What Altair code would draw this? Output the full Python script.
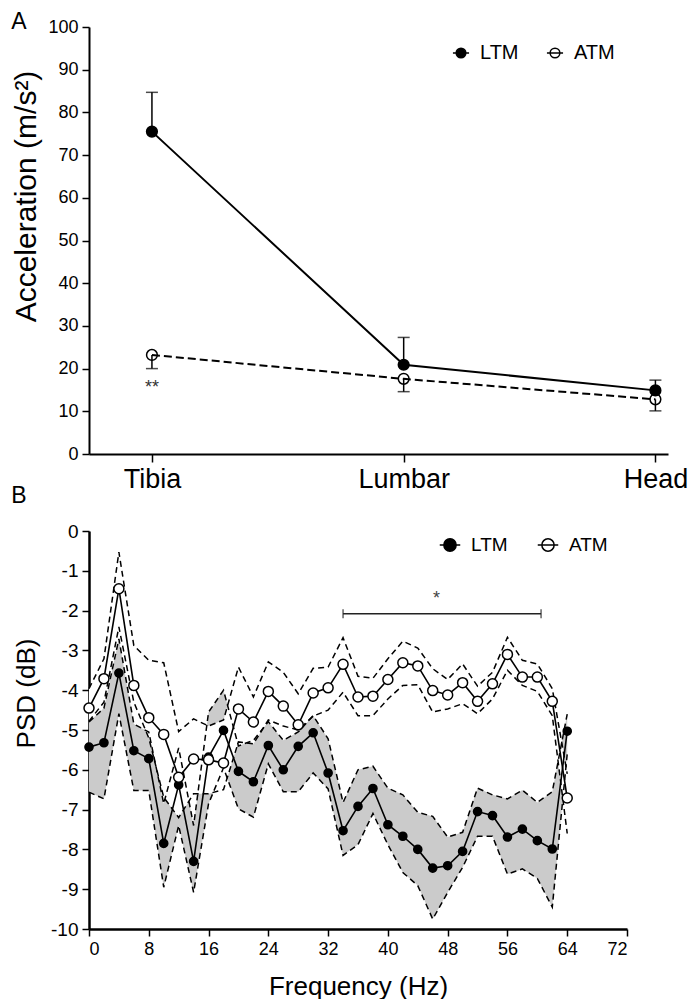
import altair as alt
import pandas as pd

FONT = "Liberation Sans"

# ---------------- Panel A data ----------------
sites = ["Tibia", "Lumbar", "Head"]
series_names = ["LTM", "ATM"]
ltm_acc = [75.5, 20.9, 14.9]
ltm_acc_sd_top = [84.7, 27.3, 17.3]
atm_acc = [23.2, 17.6, 12.8]
atm_acc_sd_bottom = [20.0, 14.6, 10.1]
sig_a_text = "**"
sig_a_site = 0
sig_a_value = 17.6

# ---------------- Panel B data ----------------
freq = [0, 2, 4, 6, 8, 10, 12, 14, 16, 18, 20, 22, 24, 26, 28, 30, 32,
        34, 36, 38, 40, 42, 44, 46, 48, 50, 52, 54, 56, 58, 60, 62, 64]
ltm_psd = [-5.43, -5.32, -3.57, -5.52, -5.72, -7.85, -6.38, -8.30, -5.68, -5.01,
           -6.04, -6.30, -5.39, -6.00, -5.41, -5.07, -6.08, -7.53, -6.92, -6.47,
           -7.38, -7.67, -8.00, -8.47, -8.41, -8.05, -7.05, -7.15, -7.69, -7.49,
           -7.78, -7.99, -5.03]
ltm_upper = [-4.80, -4.45, -2.71, -4.85, -5.05, -6.85, -5.45, -7.40, -4.55, -4.00,
             -5.40, -5.26, -4.79, -5.26, -5.05, -4.64, -5.22, -6.82, -6.00, -5.91,
             -6.46, -6.63, -7.07, -7.17, -7.69, -7.57, -6.46, -6.63, -6.73, -6.51,
             -6.82, -6.55, -4.60]
ltm_lower = [-6.56, -6.73, -4.59, -6.52, -6.52, -8.95, -7.40, -9.08, -6.85, -5.95,
             -6.98, -7.19, -5.85, -6.55, -6.55, -6.08, -6.48, -8.15, -7.88, -7.10,
             -7.88, -8.58, -8.91, -9.75, -9.08, -8.45, -7.67, -7.67, -8.62, -8.49,
             -8.73, -9.45, -5.60]
atm_psd = [-4.45, -3.71, -1.45, -3.88, -4.69, -5.11, -6.19, -5.73, -5.75, -5.83,
           -4.47, -4.80, -4.03, -4.40, -4.87, -4.07, -3.94, -3.35, -4.17, -4.15,
           -3.73, -3.31, -3.39, -4.01, -4.12, -3.81, -4.28, -3.84, -3.10, -3.67,
           -3.67, -4.28, -6.71]
atm_upper = [-3.96, -3.21, -0.53, -2.88, -3.25, -3.31, -5.04, -4.72, -4.90, -4.75,
             -3.42, -4.17, -3.29, -3.55, -4.09, -3.45, -3.42, -2.68, -3.65, -3.70,
             -3.21, -2.77, -2.94, -3.46, -3.73, -3.34, -3.90, -3.55, -2.67, -3.25,
             -3.34, -3.96, -6.10]
atm_lower = [-4.78, -4.30, -2.41, -4.30, -5.20, -6.69, -7.20, -6.60, -6.60, -6.50,
             -5.30, -5.35, -4.75, -4.90, -5.00, -4.65, -4.50, -4.05, -4.64, -4.64,
             -4.22, -3.88, -3.86, -4.55, -4.47, -4.34, -4.59, -4.22, -3.50, -3.88,
             -4.03, -4.64, -7.60]
sig_range = [34, 60.5]
sig_level = -2.08
sig_b_text = "*"
sig_b_pos = [46.5, -1.72]
freq_ticks = [0, 8, 16, 24, 32, 40, 48, 56, 64, 72]
psd_ticks = [-10, -9, -8, -7, -6, -5, -4, -3, -2, -1, 0]

SYMBOL = "M-1,0L1,0M-0.6,0A0.6,0.6,0,1,1,0.6,0A0.6,0.6,0,1,1,-0.6,0Z"


def fill_enc(fills, legend_x, legend_y, sym_size, font_size, offset, colpad):
    return alt.Fill(
        "series:N",
        scale=alt.Scale(domain=series_names, range=fills),
        legend=alt.Legend(title=None, orient="none", legendX=legend_x, legendY=legend_y,
                          direction="horizontal", symbolType=SYMBOL, symbolSize=sym_size,
                          symbolStrokeColor="black", symbolStrokeWidth=1.5,
                          labelFontSize=font_size, labelFont=FONT, labelColor="black",
                          labelOffset=offset, columnPadding=colpad),
    )


# ---------------- Panel A ----------------
rows_a = []
for i, s in enumerate(sites):
    rows_a.append(dict(idx=i, site=s, series="LTM", value=ltm_acc[i], bound=ltm_acc_sd_top[i]))
    rows_a.append(dict(idx=i, site=s, series="ATM", value=atm_acc[i], bound=atm_acc_sd_bottom[i]))
df_a = pd.DataFrame(rows_a)

label_expr = "[" + ",".join("'%s'" % s for s in sites) + "][datum.value]"
xa = alt.X("idx:Q", scale=alt.Scale(domain=[-0.25, 2.05], nice=False, zero=False),
           axis=alt.Axis(values=[0, 1, 2], labelExpr=label_expr, title=None,
                         labelFontSize=27, tickSize=8, labelPadding=4,
                         domainWidth=2, tickWidth=1.5))
ya = alt.Y("value:Q", scale=alt.Scale(domain=[0, 100], nice=False),
           axis=alt.Axis(values=list(range(0, 101, 10)), title="Acceleration (m/s²)",
                         titleFontSize=30, titleX=-48, titleY=169,
                         labelFontSize=18, tickSize=7, labelPadding=4, labelOverlap=False,
                         domainWidth=2, tickWidth=1.5))

base_a = alt.Chart(df_a)
line_ltm_a = base_a.transform_filter(alt.datum.series == "LTM").mark_line(
    color="black", strokeWidth=2).encode(x=xa, y=ya)
line_atm_a = base_a.transform_filter(alt.datum.series == "ATM").mark_line(
    color="black", strokeWidth=2, strokeDash=[8, 4]).encode(x="idx:Q", y="value:Q")
err_a = base_a.mark_rule(color="black", strokeWidth=1.5).encode(x="idx:Q", y="value:Q", y2="bound:Q")
cap_a = base_a.mark_tick(color="black", orient="horizontal", size=12, thickness=1.5).encode(
    x="idx:Q", y="bound:Q")
pts_a = base_a.mark_point(shape="circle", filled=True, size=115, stroke="black",
                          strokeWidth=1.5, opacity=1).encode(
    x="idx:Q", y="value:Q", fill=fill_enc(["black", "transparent"], 362, 16, 260, 20, 9, 24))
sig_a = alt.Chart(pd.DataFrame({"idx": [sig_a_site], "v": [sig_a_value], "t": [sig_a_text]})).mark_text(
    font=FONT, fontSize=18, color="#333", baseline="top").encode(x="idx:Q", y="v:Q", text="t:N")
letter_a = alt.Chart(pd.DataFrame({"t": ["A"]})).mark_text(
    font=FONT, fontSize=23, color="black", align="center", baseline="middle").encode(
    x=alt.value(-70), y=alt.value(-5), text="t:N")
letter_b = alt.Chart(pd.DataFrame({"t": ["B"]})).mark_text(
    font=FONT, fontSize=23, color="black", align="center", baseline="middle").encode(
    x=alt.value(-70), y=alt.value(469), text="t:N")

panel_a = alt.layer(line_ltm_a, line_atm_a, err_a, cap_a, pts_a, sig_a, letter_a, letter_b).properties(
    width=579, height=427)

# ---------------- Panel B ----------------
rows_b = []
for i, f in enumerate(freq):
    rows_b.append(dict(freq=f, series="LTM", psd=ltm_psd[i], lo=ltm_lower[i], hi=ltm_upper[i]))
for i, f in enumerate(freq):
    rows_b.append(dict(freq=f, series="ATM", psd=atm_psd[i], lo=atm_lower[i], hi=atm_upper[i]))
df_b = pd.DataFrame(rows_b)

xb_scale = alt.Scale(domain=[0, 72], nice=False)
xb_axis = alt.Axis(values=freq_ticks, title="Frequency (Hz)", titleFontSize=26, titlePadding=15,
                   labelFontSize=18, tickSize=7, labelPadding=4, domainWidth=2.5, tickWidth=1.5)
yb_axis = alt.Axis(values=psd_ticks, labelExpr="'' + datum.value", title="PSD (dB)",
                   titleFontSize=26, titleX=-50, titleY=162, labelOverlap=False,
                   labelFontSize=19, tickSize=7, labelPadding=4, domainWidth=2.5, tickWidth=1.5)
yb_scale = alt.Scale(domain=[-10, 0], nice=False)


def XB():
    return alt.X("freq:Q", scale=xb_scale, axis=xb_axis)


def YB(field):
    return alt.Y(field, scale=yb_scale, axis=yb_axis)


base_b = alt.Chart(df_b)
band_ltm = base_b.transform_filter(alt.datum.series == "LTM").mark_area(color="#cbcbcb", opacity=1).encode(
    x=XB(), y=YB("lo:Q"), y2="hi:Q")
band_atm = base_b.transform_filter(alt.datum.series == "ATM").mark_area(color="white", opacity=1).encode(
    x=XB(), y=YB("lo:Q"), y2="hi:Q")
dashed_b = base_b.transform_fold(["lo", "hi"], as_=["bound", "bval"]).mark_line(
    color="black", strokeWidth=1.5, strokeDash=[6, 4]).encode(
    x=XB(), y=YB("bval:Q"), detail=["series:N", "bound:N"])
lines_b = base_b.mark_line(color="black", strokeWidth=1.6).encode(x=XB(), y=YB("psd:Q"), detail="series:N")
pts_ltm_b = base_b.transform_filter(alt.datum.series == "LTM").mark_point(
    shape="circle", filled=True, size=66, stroke="black", strokeWidth=1.5, opacity=1).encode(
    x=XB(), y=YB("psd:Q"), fill=fill_enc(["black", "white"], 350, 3, 420, 19, 10, 26))
pts_atm_b = base_b.transform_filter(alt.datum.series == "ATM").mark_point(
    shape="circle", filled=True, size=100, stroke="black", strokeWidth=1.5, opacity=1).encode(
    x=XB(), y=YB("psd:Q"), fill=fill_enc(["black", "white"], 350, 3, 420, 19, 10, 26))
df_sig = pd.DataFrame({"x1": [sig_range[0]], "x2": [sig_range[1]], "y": [sig_level]})
sig_bar = alt.Chart(df_sig).mark_rule(color="#222", strokeWidth=1.5).encode(
    x=alt.X("x1:Q", scale=xb_scale, axis=xb_axis), x2="x2:Q", y=YB("y:Q"))
sig_caps = alt.Chart(pd.DataFrame({"x": sig_range, "y": [sig_level, sig_level]})).mark_tick(
    color="#222", orient="vertical", size=9, thickness=1.5).encode(
    x=alt.X("x:Q", scale=xb_scale, axis=xb_axis), y=YB("y:Q"))
sig_star = alt.Chart(pd.DataFrame({"x": [sig_b_pos[0]], "y": [sig_b_pos[1]], "t": [sig_b_text]})).mark_text(
    font=FONT, fontSize=18, color="#444").encode(
    x=alt.X("x:Q", scale=xb_scale, axis=xb_axis), y=YB("y:Q"), text="t:N")

panel_b = alt.layer(band_ltm, band_atm, dashed_b, lines_b, pts_ltm_b, pts_atm_b,
                    sig_bar, sig_caps, sig_star).properties(width=538, height=398)

chart = alt.vconcat(panel_a, panel_b, spacing=77, bounds="flush").resolve_scale(
    fill="independent"
).resolve_legend(fill="independent").properties(
    padding={"left": 3, "top": 3, "right": 0, "bottom": 0}
).configure_view(stroke=None).configure_axis(
    labelFont=FONT, titleFont=FONT, labelColor="black", titleColor="black",
    tickColor="black", domainColor="black", grid=False, titleFontWeight="normal",
    labelOverlap=False
).configure_legend(labelFont=FONT)

chart.save("out.html", embed_options={"renderer": "svg", "actions": False})
